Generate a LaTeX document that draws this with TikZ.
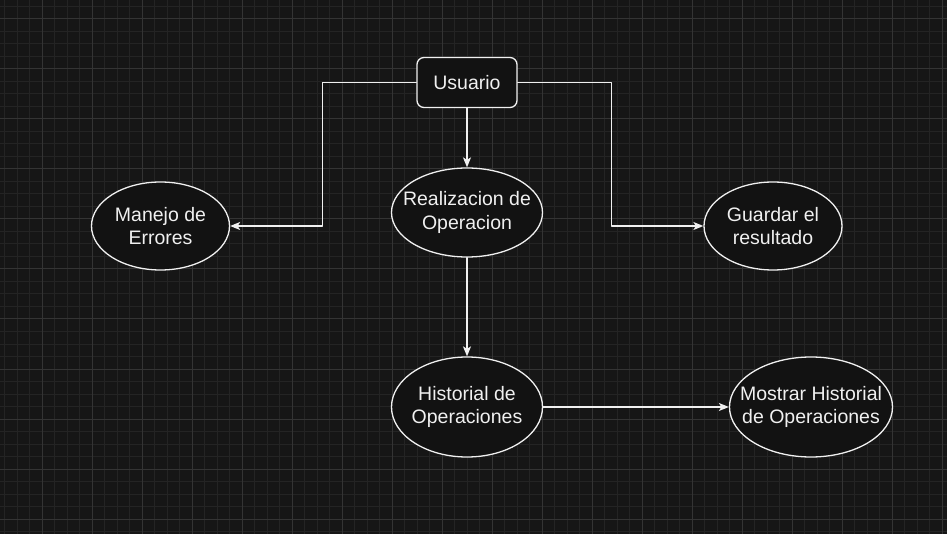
\documentclass[tikz,border=0pt]{standalone}
\usepackage{fontspec}
\setmainfont{Liberation Sans}
\usepackage{tikz}
\usetikzlibrary{arrows.meta}
\usetikzlibrary{shapes.geometric}
\definecolor{fondo}{RGB}{22,22,22}
\definecolor{relleno}{RGB}{18,18,18}
\definecolor{rejilla}{RGB}{36,36,36}
\definecolor{rejillamayor}{RGB}{52,52,52}
\definecolor{trazo}{RGB}{240,240,240}
\tikzstyle{every node}=[font=\fontsize{19.5}{23.4}\selectfont,text=trazo]
\tikzstyle{every path}=[line width=1.3pt,line cap=round,line join=round]
\tikzstyle{caja}=[draw=trazo,fill=relleno,rounded corners=7pt,minimum width=100pt,minimum height=50pt,inner sep=0pt]
\tikzstyle{proceso}=[ellipse,draw=trazo,fill=relleno,align=center,inner xsep=-30pt,inner ysep=-15pt]
\tikzstyle{flecha}=[draw=trazo,-{Stealth[length=10pt,width=8pt,inset=2.5pt]}]

\begin{document}
\begin{tikzpicture}[x=1pt,y=-1pt]
  \useasboundingbox (0,0) rectangle (947,534);
  \fill[fondo] (0,0) rectangle (947,534);
  % rejilla de fondo
  \foreach \x in {4.5,17,...,947} \draw[rejilla,line width=1pt] (\x,0)--(\x,534);
  \foreach \y in {6.5,19,...,534} \draw[rejilla,line width=1pt] (0,\y)--(947,\y);
  \foreach \x in {42,92,...,942} \draw[rejillamayor,line width=1pt] (\x,0)--(\x,534);
  \foreach \y in {19,69,...,519} \draw[rejillamayor,line width=1pt] (0,\y)--(947,\y);
  % nodos
  \node[caja] (usuario) at (467,82.5) {Usuario};
  \node[proceso,minimum width=151pt,minimum height=89pt] (realizacion) at (467,212.5)
       {Realizacion de\\Operacion};
  \node[proceso,minimum width=138pt,minimum height=88pt] (manejo) at (160.5,226)
       {Manejo de\\Errores};
  \node[proceso,minimum width=138pt,minimum height=88pt] (guardar) at (773,226)
       {Guardar el\\resultado};
  \node[proceso,minimum width=151pt,minimum height=100pt] (historial) at (467,407)
       {Historial de\\Operaciones};
  \node[proceso,minimum width=163pt,minimum height=100pt] (mostrar) at (811,407)
       {Mostrar Historial\\de Operaciones};
  % conectores
  \draw[flecha] (usuario.west) -- ++(-94,0) |- (manejo.east);
  \draw[flecha] (usuario.east) -- ++(94,0) |- (guardar.west);
  \draw[flecha] (usuario.south) -- (realizacion.north);
  \draw[flecha] (realizacion.south) -- (historial.north);
  \draw[flecha] (historial.east) -- (mostrar.west);
\end{tikzpicture}
\end{document}
